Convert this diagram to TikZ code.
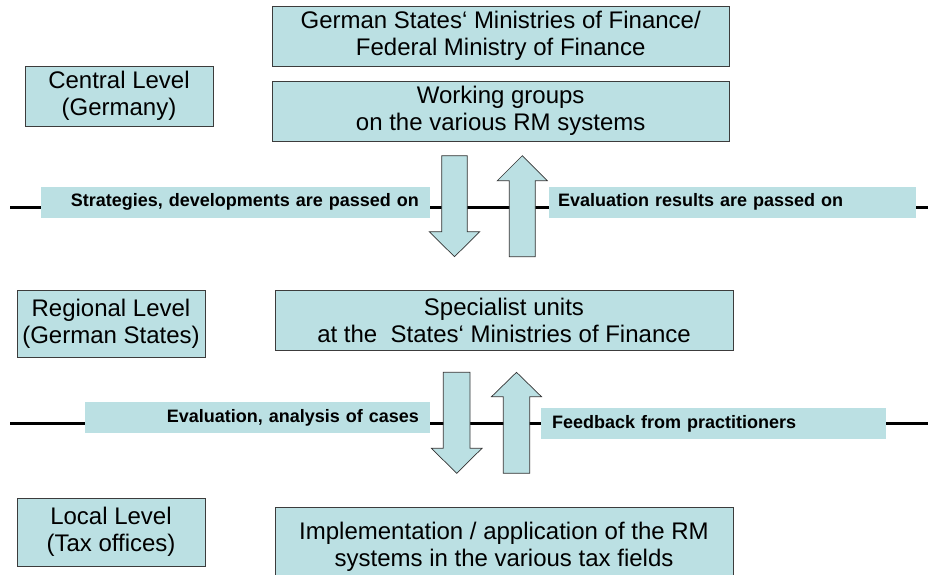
\documentclass[tikz,border=0pt]{standalone}
\usepackage{fontspec}
\setmainfont{Liberation Sans}
\definecolor{boxfill}{RGB}{187,224,227}
\definecolor{boxline}{RGB}{60,60,60}
\begin{document}
\begin{tikzpicture}[x=1pt,y=-1pt,
  mainbox/.style={draw=boxline, line width=0.8pt, fill=boxfill, inner sep=0pt, align=center, font=\fontsize{24}{27}\selectfont},
  labelbox/.style={fill=boxfill, inner ysep=0pt, font=\fontsize{18}{20}\selectfont\bfseries},
  flowarrow/.style={draw=black!80, line width=0.7pt, fill=boxfill},
  levelline/.style={line width=2.5pt}]
\useasboundingbox (0,0) rectangle (930,575);

% level separator lines
\coordinate (l1a) at (10,207.7);
\coordinate (l1b) at (928,207.7);
\coordinate (l2a) at (10,423.5);
\coordinate (l2b) at (928,423.5);
\draw[levelline] (l1a) -- (l1b);
\draw[levelline] (l2a) -- (l2b);

% labels on the lines
\node[labelbox, minimum height=31pt, text width=367pt, inner xsep=11pt, align=right] (lab1) at (235.5,202.2) {Strategies, developments are passed on};
\node[labelbox, minimum height=31pt, text width=349pt, inner xsep=9pt, align=left] (lab2) at (732.5,202.2) {Evaluation results are passed on};
\node[labelbox, minimum height=31.6pt, text width=323pt, inner xsep=11pt, align=right] (lab3) at (257.5,417.5) {Evaluation, analysis of cases};
\node[labelbox, minimum height=31pt, text width=323pt, inner xsep=11pt, align=left] (lab4) at (713.5,423.5) {Feedback from practitioners};

% block arrows
\draw[flowarrow] (441.7,155.7) -- (467.3,155.7) -- (467.3,231.7) -- (479.7,231.7) -- (454.5,256.7) -- (429.3,231.7) -- (441.7,231.7) -- cycle;
\draw[flowarrow] (509.3,256.7) -- (535.3,256.7) -- (535.3,180.7) -- (547.3,180.7) -- (522.3,155.7) -- (497.3,180.7) -- (509.3,180.7) -- cycle;
\draw[flowarrow] (443.3,372.3) -- (470,372.3) -- (470,448.3) -- (482,448.3) -- (456.7,473.3) -- (431.4,448.3) -- (443.3,448.3) -- cycle;
\draw[flowarrow] (503.3,473.3) -- (529.7,473.3) -- (529.7,396.7) -- (541.5,396.7) -- (516.5,372.3) -- (491.5,396.7) -- (503.3,396.7) -- cycle;

% boxes
\node[mainbox, minimum width=188pt, minimum height=60pt] (central) at (119,96) {Central Level\\(Germany)};
\node[mainbox, minimum width=457pt, minimum height=60pt] (ministries) at (500.7,36) {German States‘ Ministries of Finance/\\Federal Ministry of Finance};
\node[mainbox, minimum width=457pt, minimum height=60pt] (working) at (500.7,111) {Working groups\\on the various RM systems};
\node[mainbox, minimum width=188pt, minimum height=67pt] (regional) at (111,323.5) {Regional Level\\(German States)};
\node[mainbox, minimum width=458pt, minimum height=60pt] (specialist) at (504,320) {Specialist units\\at the \ States‘ Ministries of Finance};
\node[mainbox, minimum width=188pt, minimum height=68pt] (local) at (111,532) {Local Level\\(Tax offices)};
\node[mainbox, minimum width=458pt, minimum height=80pt] (impl) at (504,547) {Implementation / application of the RM\\systems in the various tax fields};
\end{tikzpicture}
\end{document}
